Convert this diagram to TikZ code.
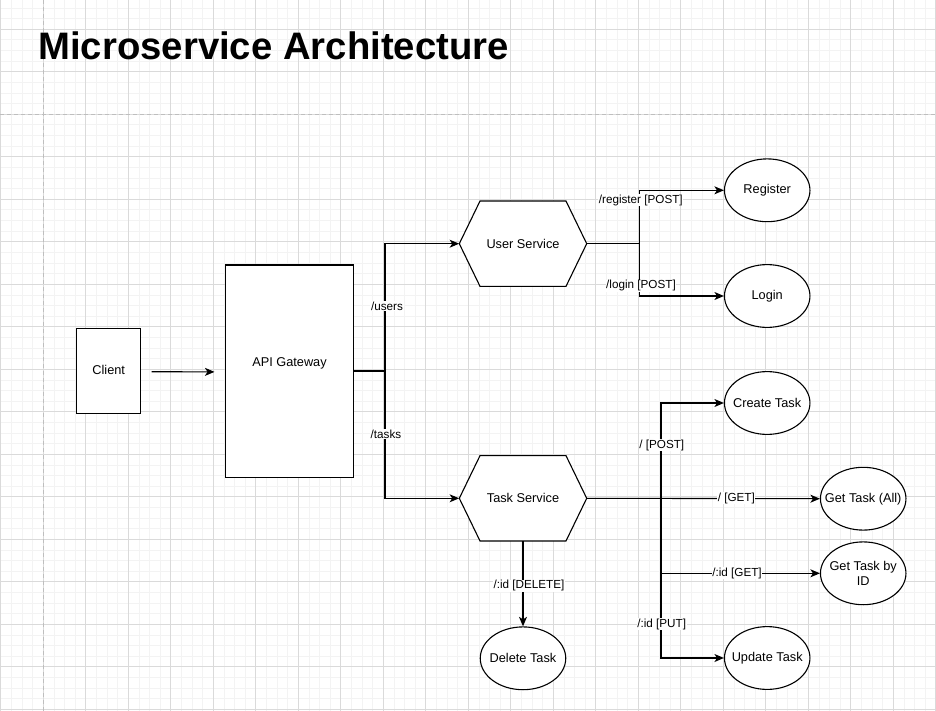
\documentclass[tikz,border=0pt]{standalone}
\usepackage{fontspec}
\setmainfont{Liberation Sans}
\usetikzlibrary{arrows.meta,calc,shapes.geometric}
\definecolor{gminor}{RGB}{243,243,243}
\definecolor{gmajor}{RGB}{218,218,218}
\definecolor{gdash}{RGB}{190,190,190}
\tikzset{
  minorline/.style={gminor,line width=0.8pt},
  majorline/.style={gmajor,line width=0.8pt},
  pageline/.style={gdash,line width=0.9pt,dash pattern=on 4pt off 3pt},
  shapeline/.style={draw=black,line width=1.1pt,fill=white},
  boxnode/.style={shapeline,rectangle,inner sep=0pt},
  ellnode/.style={shapeline,ellipse,inner xsep=-9pt,inner ysep=-5pt,minimum width=85.5pt,minimum height=62.8pt,
    font=\fontsize{12.75}{14.5}\selectfont,align=center},
  txt/.style={inner sep=0pt,font=\fontsize{12.75}{14.5}\selectfont,align=center},
  hexspot/.style={inner sep=0pt,minimum width=127.4pt,minimum height=85.3pt,font=\fontsize{12.75}{14.5}\selectfont},
  lbl/.style={fill=white,inner sep=0.6pt,font=\fontsize{11.7}{13}\selectfont},
  conn/.style={line width=1.1pt,draw=black},
  arr/.style={conn,-{Stealth[length=9.5pt,width=8pt,inset=2.6pt]}},
}
\begin{document}
\begin{tikzpicture}[x=1pt,y=-1pt]
\useasboundingbox (0,0) rectangle (936,711);
\fill[white] (0,0) rectangle (936,711);
% grid
\begin{scope}
\clip (0,0) rectangle (936,711);
\foreach \j in {0,...,88} \draw[minorline] ({0.8+10.625*\j},0) -- ({0.8+10.625*\j},711);
\foreach \j in {0,...,70} \draw[minorline] (0,{-2.6+10.625*\j}) -- (936,{-2.6+10.625*\j});
\foreach \k in {0,...,22} \draw[majorline] ({0.8+42.5*\k},0) -- ({0.8+42.5*\k},711);
\foreach \k in {0,...,17} \draw[majorline] (0,{-13.2+42.5*\k}) -- (936,{-13.2+42.5*\k});
\draw[pageline] (43.3,0) -- (43.3,711);
\draw[pageline] (0,114.6) -- (936,114.6);
\end{scope}

% title
\node[anchor=base west,inner sep=0pt,font=\bfseries\fontsize{38.3}{44}\selectfont] (title) at (38.2,60) {Microservice Architecture};

% client and gateway
\node[boxnode,minimum width=64pt,minimum height=85pt] (client) at (108.7,371.2) {};
\node[txt] (clientt) at (108.7,370) {Client};
\node[boxnode,minimum width=127.6pt,minimum height=212.7pt] (gw) at (289.5,371.3) {};
\node[txt] (gwt) at (289.5,363.3) {API Gateway};

% hexagons
\coordinate (usc) at (523,243.7);
\coordinate (tsc) at (523,498.3);
\foreach \c in {usc,tsc}
  \draw[shapeline] (\c) ++(-63.7,0) -- ++(20.7,-42.65) -- ++(86,0) -- ++(20.7,42.65)
     -- ++(-20.7,42.65) -- ++(-86,0) -- cycle;
\node[hexspot] (us) at (usc) {User Service};
\node[hexspot] (ts) at (tsc) {Task Service};

% ellipses
\node[ellnode] (reg) at (767.2,190.3) {Register};
\node[ellnode] (login) at (767.2,296) {Login};
\node[ellnode] (create) at (767.2,403) {Create Task};
\node[ellnode] (gall) at (863.2,498.7) {Get Task (All)};
\node[ellnode] (gid) at (863.2,573.3) {Get Task by\\ID};
\node[ellnode] (upd) at (767.2,658) {Update Task};
\node[ellnode] (del) at (523,658.3) {Delete Task};

% client -> gateway
\draw[arr] ([xshift=10.3pt,yshift=-0.5pt]client.east) -- ([xshift=-10.7pt,yshift=-0.6pt]gw.west);

% gateway -> services
\coordinate (gb) at (385,371);
\draw[conn] (gw.east |- gb) -- (gb);
\draw[arr] (gb) |- (us.west);
\draw[arr] (gb) |- (ts.west);
\node[lbl] (lusers) at (387,306) {/users};
\node[lbl] (ltasks) at (386,434) {/tasks};

% user service branches
\coordinate (ub) at (639.3,243.7);
\draw[conn] (us.east) -- (ub);
\draw[arr] (ub) |- (reg.west);
\draw[arr] (ub) |- (login.west);
\node[lbl] (lreg) at (640.8,200) {/register [POST]};
\node[lbl] (llog) at (641,285.7) {/login [POST]};

% task service branches
\coordinate (tb) at (661,498.3);
\draw[arr] (ts.east) -- (gall.west);
\draw[arr] (tb) |- (create.west);
\draw[arr] (tb) |- (gid.west);
\draw[arr] (tb) |- (upd.west);
\draw[arr] (ts.south) -- (del.north);
\node[lbl] (lpost) at (661.8,445) {/ [POST]};
\node[lbl] (lget) at (736.3,498.3) {/ [GET]};
\node[lbl] (lgid) at (737,573.3) {/:id [GET]};
\node[lbl] (lput) at (661.7,624.3) {/:id [PUT]};
\node[lbl] (ldel) at (529,585.7) {/:id [DELETE]};
\end{tikzpicture}
\end{document}
